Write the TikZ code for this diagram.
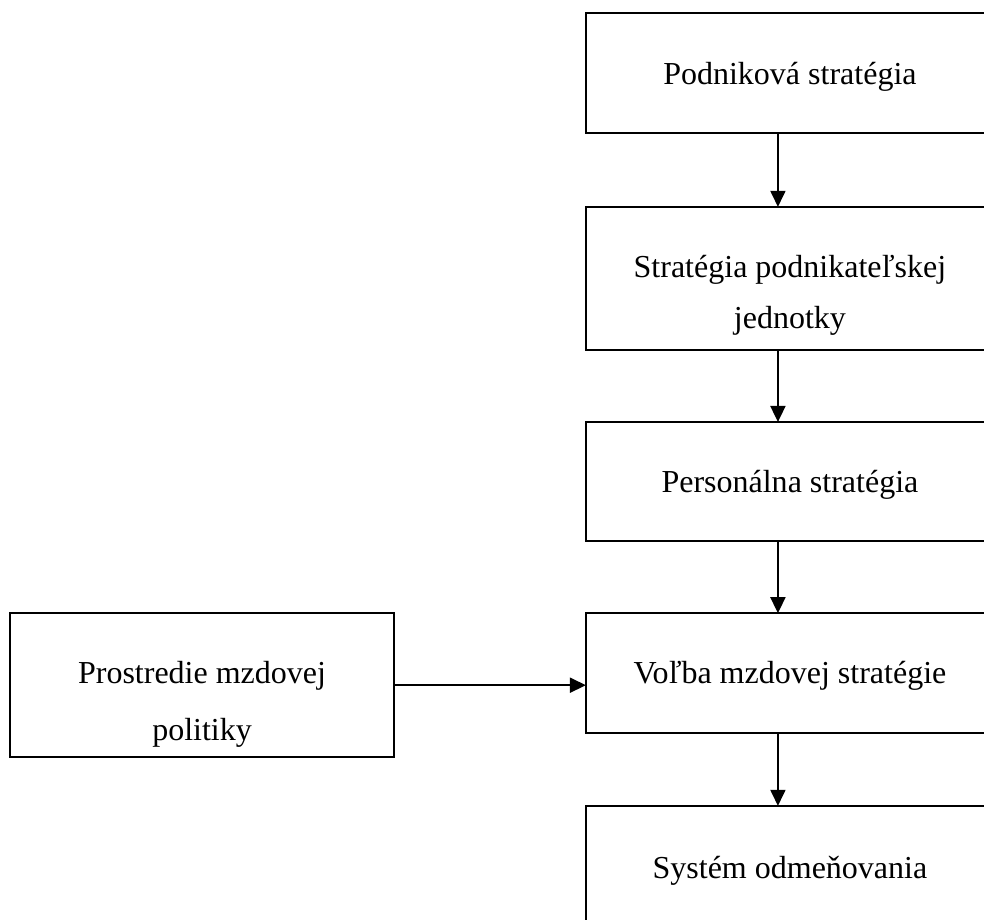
\documentclass[tikz,border=0pt]{standalone}
\usepackage{fontspec}
\setmainfont{Liberation Serif}
\usetikzlibrary{arrows.meta, positioning, calc}

\begin{document}
\begin{tikzpicture}[
  >=Stealth,
  every node/.style={font=\fontsize{16}{27}\selectfont},
  level/.style={
    draw, line width=0.9pt, inner sep=0pt, outer sep=0pt,
    minimum width=7.17cm, minimum height=2.11cm,
    align=center
  },
  drop/.style={execute at begin node={\rule{0pt}{#1}}},
  arr/.style={-{Triangle[length=8pt, width=7.5pt]}, line width=0.9pt},
]

%% ── Frame ─────────────────────────────────────────────────────────────────
\useasboundingbox (0,0) rectangle (17.29,16.15);
\clip (0,0) rectangle (17.29,16.15);

%% ── Main column ───────────────────────────────────────────────────────────
\node[level, drop=15pt]              (firm)   at (13.88,14.87) {Podniková stratégia};
\node[level, drop=53.5pt, minimum height=2.51cm,
      font=\fontsize{16}{25.5}\selectfont]
                                     (unit)   at (13.88,11.26) {Stratégia podnikateľskej\\jednotky};
\node[level, drop=14pt, minimum height=2.09cm]
                                     (hr)     at (13.88,7.69)  {Personálna stratégia};
\node[level, drop=13.5pt]            (wage)   at (13.88,4.32)  {Voľba mzdovej stratégie};
\node[level, minimum height=2.3cm]   (reward) at (13.88,0.84)  {Systém odmeňovania};

%% ── Side input ────────────────────────────────────────────────────────────
\node[level, drop=59pt, minimum width=6.75cm, minimum height=2.53cm,
      font=\fontsize{16}{28.5}\selectfont]
  (env) at (3.55,4.11) {Prostredie mzdovej\\politiky};

%% ── Arrows ────────────────────────────────────────────────────────────────
\foreach \a/\b in {firm/unit, unit/hr, hr/wage, wage/reward}
  \draw[arr] ([xshift=-6pt]\a.south) -- ([xshift=-6pt]\b.north);
\draw[arr] (env.east) -- (env.east -| wage.west);

\end{tikzpicture}
\end{document}
